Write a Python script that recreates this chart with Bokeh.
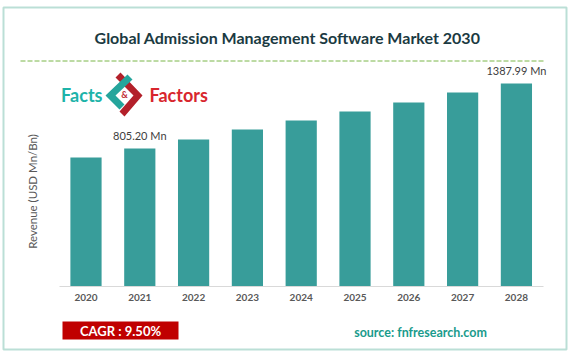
from bokeh.plotting import figure
from bokeh.models import (Range1d, ColumnDataSource, Label, BoxAnnotation,
                          PolyAnnotation, Arrow, FixedTicker)
from bokeh.core.properties import value
from bokeh.embed import file_html
from bokeh.resources import INLINE

# ---- data ----
years = ["2020", "2021", "2022", "2023", "2024", "2025", "2026", "2027", "2028"]
revenue = [724.5, 805.20, 886.0, 975.6, 1056.3, 1136.9, 1217.6, 1307.3, 1387.99]
bar_labels = ["", "805.20 Mn", "", "", "", "", "", "", "1387.99 Mn"]
title_text = "Global Admission Management Software Market 2030"
y_title = "Revenue (USD Mn/Bn)"
cagr_text = "CAGR : 9.50%"
source_text = "source: fnfresearch.com"
axis_min = -429.4          # value axis minimum (bars start here)

FONT = "Lato"
W, H = 573, 358
idx = list(range(len(years)))

p = figure(x_range=Range1d(-1.589, 9.061), y_range=Range1d(-1077.6, 2132.2),
           width=W, height=H, output_backend="svg", toolbar_location=None,
           min_border=0, min_border_left=0, min_border_right=0,
           min_border_top=0, min_border_bottom=0)
p.background_fill_color = "white"
p.border_fill_color = "white"
p.outline_line_color = None
p.grid.visible = False
p.yaxis.visible = False

src = ColumnDataSource(dict(x=idx, rev=revenue, lab=bar_labels))
p.vbar(x="x", top="rev", bottom=axis_min, width=0.58, source=src,
       fill_color="#389d9a", line_color=None)
p.text(x="x", y="rev", text="lab", source=src, y_offset=-13,
       text_align="center", text_baseline="middle", text_font=value(FONT),
       text_font_size="11px", text_color="#404040")

ax = p.xaxis[0]
ax.fixed_location = axis_min
ax.bounds = (-0.5, 8.5)
ax.ticker = FixedTicker(ticks=idx)
ax.major_label_overrides = {i: y for i, y in zip(idx, years)}
ax.axis_line_color = "#d9d9d9"
ax.major_tick_line_color = None
ax.minor_tick_line_color = None
ax.major_tick_out = 0
ax.major_tick_in = 0
ax.major_label_standoff = 8
ax.major_label_text_font = FONT
ax.major_label_text_font_style = "bold"
ax.major_label_text_font_size = "10px"
ax.major_label_text_color = "#595959"

def lab(x, y, text, **kw):
    p.add_layout(Label(x=x, y=y, x_units="canvas", y_units="canvas", text=text,
                       text_font=FONT, text_baseline="middle", **kw))

# border
p.add_layout(BoxAnnotation(left=3, right=566, top=7, bottom=349,
                           left_units="canvas", right_units="canvas",
                           top_units="canvas", bottom_units="canvas",
                           fill_alpha=0, line_color="#1e9478", line_width=2))
# title
lab(287, 37, title_text, text_align="center", text_font_size="16px",
    text_font_style="bold", text_color="#1b3a42")
# dashed rule
p.add_layout(Arrow(x_start=20, y_start=60.5, x_end=543, y_end=60.5,
                   start_units="canvas", end_units="canvas", end=None,
                   line_color="#7ab648", line_width=1, line_dash="5 2"))
# logo
p.add_layout(PolyAnnotation(xs=[120, 142, 124, 119, 133, 115], ys=[72, 95, 116, 111, 95, 77],
                            xs_units="canvas", ys_units="canvas",
                            fill_color="#b3202a", fill_alpha=1, line_color=None))
p.add_layout(PolyAnnotation(xs=[127, 132, 115, 124, 119, 105], ys=[74, 79, 95, 104, 109, 95],
                            xs_units="canvas", ys_units="canvas",
                            fill_color="#25a59c", fill_alpha=1, line_color=None))
lab(102, 94, "Facts", text_align="right", text_font_size="18px", text_font_style="bold",
    text_color="#1db3a9")
lab(149, 94, "Factors", text_align="left", text_font_size="18px", text_font_style="bold",
    text_color="#d8262d")
lab(124, 94, "&", text_align="center", text_font_size="9px", text_font_style="bold",
    text_color="#c0282e")
# y title
lab(32, 191, y_title, text_align="center", angle=1.5708, text_font_size="11.5px",
    text_color="#595959")
# CAGR box
p.add_layout(BoxAnnotation(left=62, right=178, top=321, bottom=339,
                           left_units="canvas", right_units="canvas",
                           top_units="canvas", bottom_units="canvas",
                           fill_color="#c00000", fill_alpha=1, line_color=None))
lab(120, 330, cagr_text, text_align="center", text_font_size="13px",
    text_font_style="bold", text_color="white")
lab(420, 332, source_text, text_align="center", text_font_size="12.5px",
    text_font_style="bold", text_color="#1a9b8c")

open("out.html", "w").write(file_html(p, INLINE))
